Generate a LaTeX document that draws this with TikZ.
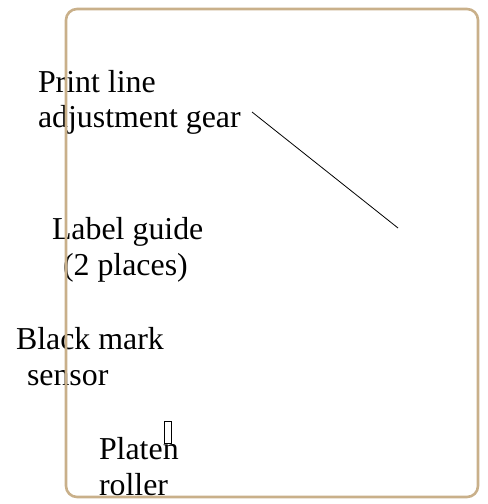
\documentclass[tikz,border=0pt]{standalone}
\usepackage{fontspec}
\setmainfont{Liberation Serif}
\definecolor{frametan}{RGB}{201,176,138}
\tikzset{
  lbl/.style={inner sep=0pt, outer sep=0pt, anchor=base west, align=left,
              font=\fontsize{32}{36}\selectfont, text=black},
  leader/.style={draw=black, line width=0.8bp},
  frame/.style={draw=frametan, line width=2.6bp, rounded corners=11bp},
  glyphbox/.style={draw=black, line width=0.8bp, inner sep=0pt,
                   minimum width=7bp, minimum height=22bp}
}
\begin{document}
\begin{tikzpicture}[x=1bp,y=-1bp]
  \useasboundingbox (0,0) rectangle (488,504);

  % callout labels (anchored at the baseline of their last line)
  \node[lbl] (gear)   at (38,128) {Print line\\adjustment gear};
  \node[lbl] (guide)  at (52,275) {Label guide\\\hspace*{11bp}(2 places)};
  \node[lbl] (sensor) at (16,385) {Black mark\\\hspace*{11bp}sensor};
  \node[lbl] (platen) at (99,495) {Platen\\roller};

  % small marker box above the platen label
  \node[glyphbox] (mark) at (167.5,432) {};

  % leader line from the gear label
  \coordinate (gearEnd) at (252,112);
  \coordinate (gearTip) at (398,228);
  \draw[leader] (gearEnd) -- (gearTip);

  % outer frame
  \draw[frame] (66,9) rectangle (478,497);
\end{tikzpicture}
\end{document}
